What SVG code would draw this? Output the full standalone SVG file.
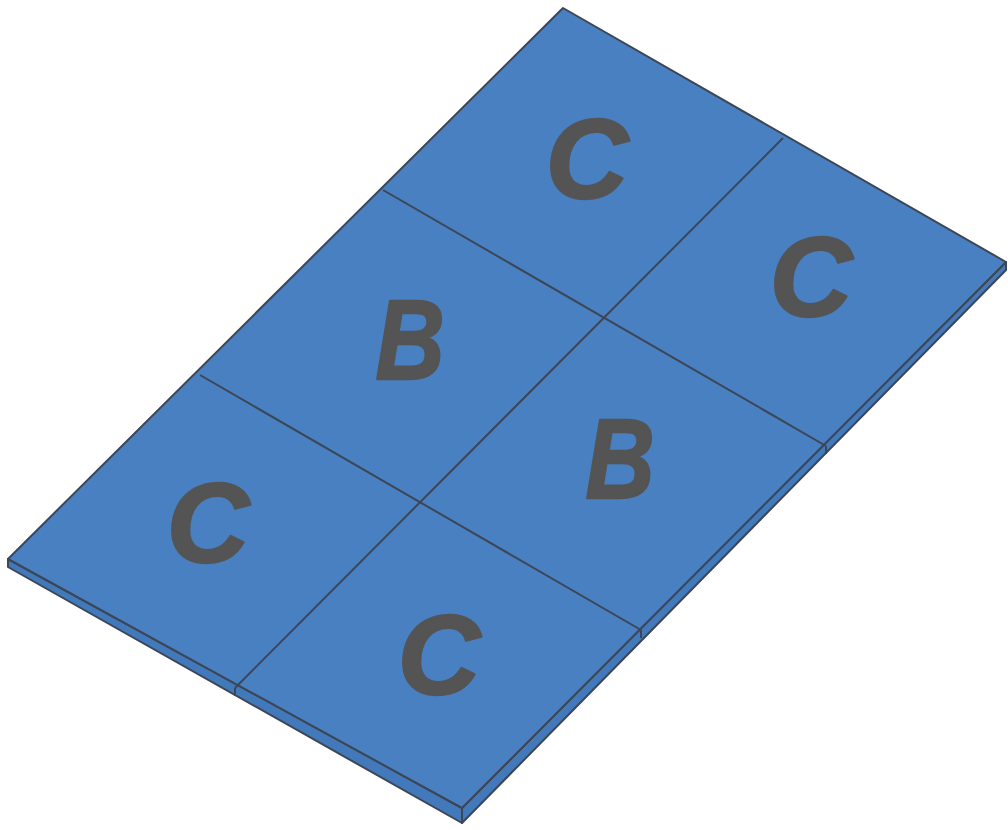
<svg xmlns="http://www.w3.org/2000/svg" width="1008" height="830" viewBox="0 0 1008 830">
<style>
.top{fill:#4880c2;stroke:#3c4656;stroke-width:2;stroke-linejoin:round}
.side{fill:#4279bb;stroke:#3c4656;stroke-width:2;stroke-linejoin:round}
.grid{stroke:#3c4656;stroke-width:2;fill:none}
.lbl{font-family:"Liberation Sans",Arial,sans-serif;font-weight:bold;font-style:italic;font-size:114px;fill:#545454;stroke:#545454;stroke-width:2.5;stroke-linejoin:round;text-anchor:middle}
</style>
<rect width="1008" height="830" fill="#ffffff"/>
<g id="slab">
<polygon class="side" points="8,559 462,808 462,823 8,567"/>
<polygon class="side" points="462,808 1006,262 1006,270 462,823"/>
<polygon class="top" points="563,8 1006,262 462,808 8,559"/>
</g>
<g id="connectors">
<line class="grid" x1="383" y1="190" x2="826" y2="446"/>
<line class="grid" x1="200" y1="375" x2="641" y2="630"/>
<line class="grid" x1="783" y1="138" x2="235" y2="688"/>
<line class="grid" x1="235" y1="688" x2="235" y2="696"/>
<line class="grid" x1="641" y1="630" x2="641" y2="638"/>
<line class="grid" x1="826" y1="446" x2="826" y2="454"/>
</g>
<g id="tile-c1"><text class="lbl" x="587" y="198">C</text></g>
<g id="tile-c2"><text class="lbl" x="811" y="316">C</text></g>
<g id="tile-b1"><text class="lbl" transform="translate(410,379) scale(0.84,1)" x="0" y="0">B</text></g>
<g id="tile-b2"><text class="lbl" transform="translate(620,498) scale(0.84,1)" x="0" y="0">B</text></g>
<g id="tile-c3"><text class="lbl" x="208" y="562">C</text></g>
<g id="tile-c4"><text class="lbl" x="439" y="694">C</text></g>
</svg>
